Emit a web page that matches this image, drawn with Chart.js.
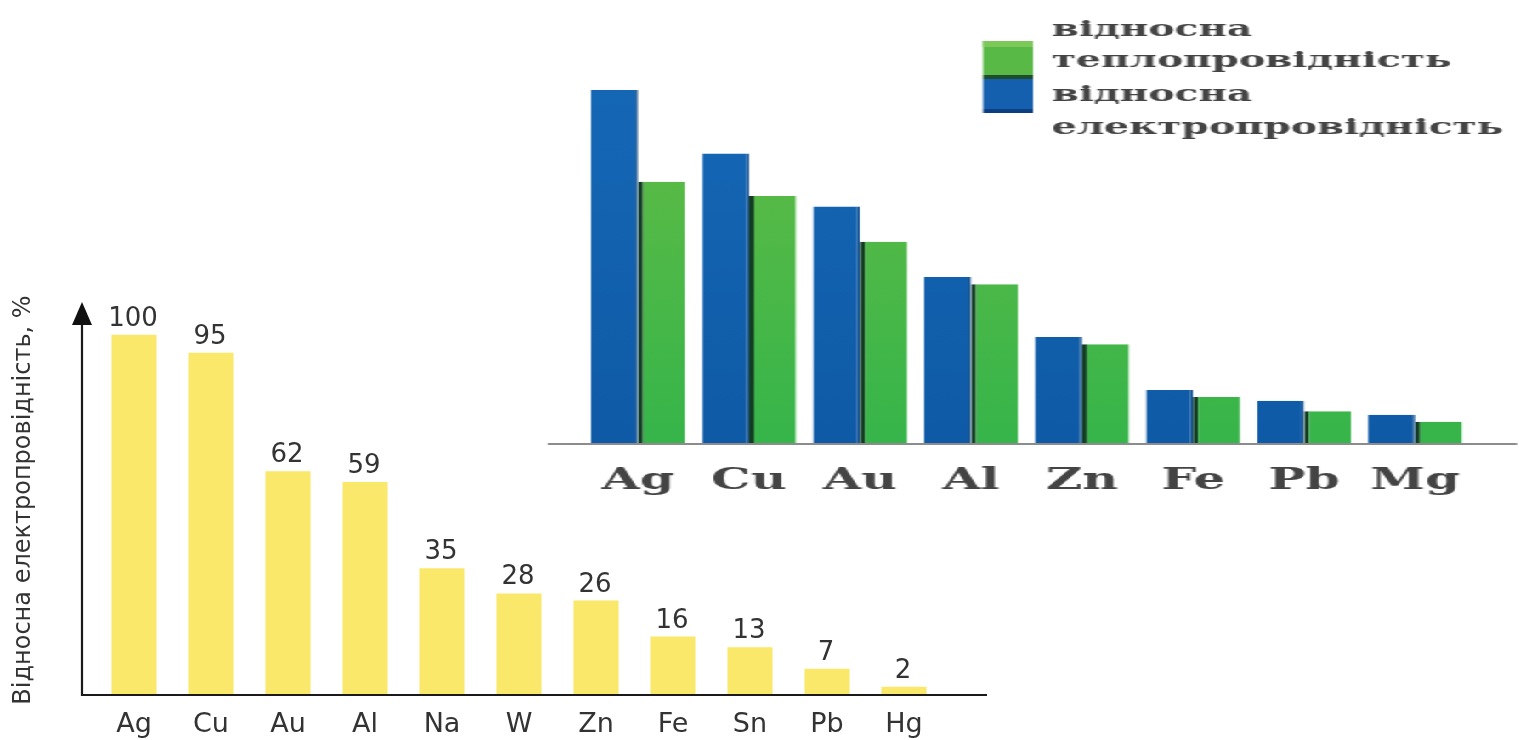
<!DOCTYPE html>
<html><head><meta charset="utf-8">
<script src="https://cdn.jsdelivr.net/npm/chart.js@4.4.0/dist/chart.umd.min.js"></script>
<style>
html,body{margin:0;padding:0;background:#fff;width:1519px;height:740px;overflow:hidden;position:relative}
#c1{position:absolute;left:0;top:280px;}
#c2wrap{position:absolute;left:540px;top:0;width:576px;height:520px;transform:scaleX(1.7);transform-origin:0 0;background:#fff}
#c2{display:block}
</style></head><body>
<canvas id="c1" width="1000" height="460"></canvas>
<div id="c2wrap"><canvas id="c2" width="576" height="520"></canvas></div>
<script>
// ---- data: yellow chart (relative electrical conductivity, %) ----
const metals1 = ['Ag','Cu','Au','Al','Na','W','Zn','Fe','Sn','Pb','Hg'];
const elecCond1 = [100,95,62,59,35,28,26,16,13,7,2];
const yTitle1 = 'Відносна електропровідність, %';
// ---- data: blue/green chart ----
const metals2 = ['Ag','Cu','Au','Al','Zn','Fe','Pb','Mg'];
const elecCond2 = [100,82,67,47,30,15,12,8];
const thermCond2 = [74,70,57,45,28,13,9,6];
const legendThermal = ['відносна','теплопровідність'];
const legendElectric = ['відносна','електропровідність'];

// ---------- chart 1 ----------
const axes1 = {
  id:'axes1',
  afterDatasetsDraw(chart){
    const {ctx, chartArea:a} = chart;
    const ax = a.left - 13.5;
    ctx.save();
    ctx.strokeStyle = '#1a1a1a';
    ctx.lineWidth = 2.2;
    ctx.beginPath();
    ctx.moveTo(ax, a.top + 4);
    ctx.lineTo(ax, a.bottom + 1);
    ctx.lineTo(a.right + 44.5, a.bottom + 1);
    ctx.stroke();
    ctx.fillStyle = '#111';
    ctx.beginPath();
    ctx.moveTo(ax, a.top - 4);
    ctx.lineTo(ax - 10, a.top + 19);
    ctx.lineTo(ax + 10, a.top + 19);
    ctx.closePath();
    ctx.fill();
    // value labels
    const meta = chart.getDatasetMeta(0);
    ctx.font = '26px "DejaVu Sans"';
    ctx.fillStyle = '#333';
    ctx.textAlign = 'center';
    ctx.textBaseline = 'alphabetic';
    meta.data.forEach((el, i) => {
      ctx.fillText(String(chart.data.datasets[0].data[i]), el.x - 1, el.y - 9);
    });
    ctx.restore();
  }
};

new Chart(document.getElementById('c1'), {
  type:'bar',
  data:{labels:metals1, datasets:[{data:elecCond1, backgroundColor:'#f9e86a', categoryPercentage:1, barPercentage:0.585}]},
  options:{
    responsive:false, animation:false,
    layout:{padding:{left:5.6, right:57.5, top:26, bottom:0}},
    plugins:{legend:{display:false}, tooltip:{enabled:false}},
    scales:{
      x:{grid:{display:false, drawTicks:false}, border:{display:false},
         ticks:{font:{family:'DejaVu Sans', size:27}, color:'#333', padding:15, autoSkip:false, maxRotation:0},
         afterFit(s){ s.height = 46; }},
      y:{min:0, max:108, grid:{display:false, drawTicks:false}, border:{display:false},
         ticks:{display:false},
         title:{display:true, text:yTitle1, font:{family:'DejaVu Sans', size:24}, color:'#333', padding:{top:4,bottom:4}},
         afterFit(s){ s.width = 89.9; }}
    }
  },
  plugins:[axes1]
});

// ---------- chart 2 ----------
function vgrad(chart, top, bottom){
  const a = chart.chartArea;
  if(!a) return top;
  const g = chart.ctx.createLinearGradient(0, a.top, 0, a.bottom);
  g.addColorStop(0, top); g.addColorStop(1, bottom);
  return g;
}
const deco2 = {
  id:'deco2',
  beforeDraw(chart){
    const {ctx, width, height} = chart;
    ctx.save(); ctx.fillStyle = '#fff'; ctx.fillRect(0,0,width,height); ctx.restore();
  },
  afterDatasetsDraw(chart){
    const {ctx, chartArea:a} = chart;
    ctx.save();
    ctx.strokeStyle = '#8c8c8c';
    ctx.lineWidth = 2;
    ctx.beginPath();
    ctx.moveTo(4.7, a.bottom + 1);
    ctx.lineTo(574.7, a.bottom + 1);
    ctx.stroke();
    // legend
    const sx = 260.6, sw = 29.4;
    ctx.fillStyle = '#58b947'; ctx.fillRect(sx, 41, sw, 34);
    ctx.fillStyle = '#7cc95a'; ctx.fillRect(sx, 41, sw, 6);
    ctx.fillStyle = '#1d4d2a'; ctx.fillRect(sx, 75, sw, 4);
    ctx.fillStyle = '#145fae'; ctx.fillRect(sx, 79, sw, 30);
    ctx.fillStyle = '#0d3f80'; ctx.fillRect(sx, 109, sw, 4);
    ctx.font = 'bold 23px "DejaVu Serif"';
    ctx.fillStyle = '#444';
    ctx.textAlign = 'left';
    ctx.textBaseline = 'alphabetic';
    const tx = 301;
    ctx.fillText(legendThermal[0], tx, 36);
    ctx.fillText(legendThermal[1], tx, 67);
    ctx.fillText(legendElectric[0], tx, 101);
    ctx.fillText(legendElectric[1], tx, 134);
    ctx.restore();
  }
};

new Chart(document.getElementById('c2'), {
  type:'bar',
  data:{labels:metals2, datasets:[
    {label:'відносна електропровідність', data:elecCond2,
     backgroundColor:(c)=>vgrad(c.chart,'#166ab9','#0f5aa6'),
     borderWidth:{left:0,right:1.5,top:0,bottom:0}, borderColor:'#0c4a8c',
     categoryPercentage:0.847, barPercentage:1},
    {label:'відносна теплопровідність', data:thermCond2,
     backgroundColor:(c)=>vgrad(c.chart,'#6cbd44','#36b54a'),
     borderWidth:{left:3,right:0,top:0,bottom:0}, borderColor:'#123d22',
     categoryPercentage:0.847, barPercentage:1}
  ]},
  options:{
    responsive:false, animation:false,
    layout:{padding:{left:25, right:28.6, top:19.4, bottom:0}},
    plugins:{legend:{display:false}, tooltip:{enabled:false}},
    scales:{
      x:{grid:{display:false, drawTicks:false}, border:{display:false},
         ticks:{font:{family:'DejaVu Serif', size:29, weight:'bold'}, color:'#444', padding:20.6, autoSkip:false, maxRotation:0},
         afterFit(s){ s.height = 77; }},
      y:{display:false, min:0, max:120}
    }
  },
  plugins:[deco2]
});
</script>
</body></html>
